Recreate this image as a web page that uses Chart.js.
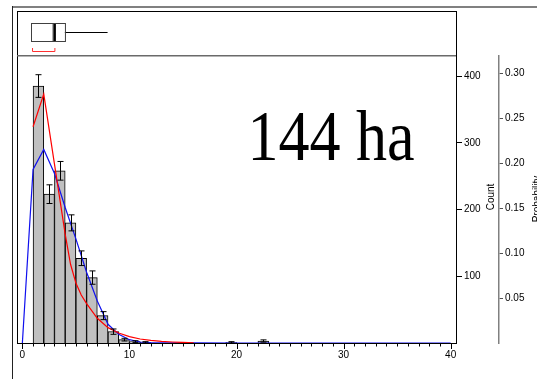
<!DOCTYPE html>
<html><head><meta charset="utf-8">
<script src="https://cdn.jsdelivr.net/npm/chart.js@4"></script>
<style>html,body{margin:0;padding:0;background:#fff;overflow:hidden}canvas{display:block}</style>
</head><body>
<canvas id="c" width="537" height="379"></canvas>
<script>
// Histogram bins (lower edge, width 1) and counts
const binStarts = [1, 2, 3, 4, 5, 6, 7, 8, 9, 10, 11, 19, 22];
const binCounts = [385, 223, 258, 180, 127, 98, 41, 17, 5, 2, 1, 1, 3];
const binErrors = [17, 14, 14, 12, 11, 10, 6, 4, 2, 1.4, 1, 1, 1.7];
// Fitted curve 1 (blue)
const blueX = [0, 1, 2, 3, 4, 5, 6, 7, 8, 9, 10, 11, 12, 20, 30, 40];
const blueY = [0, 260, 290, 254, 203, 156, 106, 63, 28, 13, 5, 1.5, 0.5, 0, 0, 0];
// Fitted curve 2 (red)
const redX = [1, 2, 3, 4, 4.5, 5, 5.5, 6, 7, 8, 9, 10, 11, 12, 13, 14, 15, 16];
const redY = [324, 373, 268, 163, 118, 90, 72, 59, 37, 23, 15, 9.5, 6, 4, 2.5, 1.5, 0.8, 0.2];
// Outlier box plot: Q1, median, Q3, upper whisker; mean; shortest half
const boxQuartiles = [0.8, 3.04, 3.97, 7.96];
const boxMean = 2.88;
const shortestHalf = [0.95, 3.04];
// Axes
const xTickLabels = [0, 10, 20, 30, 40];
const countTicks = [100, 200, 300, 400];
const probTicks = [0.05, 0.10, 0.15, 0.20, 0.25, 0.30];
const countAxisMax = 430;
const probAxisMax = 0.3192;
const titleText = '144 ha';

const SANS = '"Liberation Sans", Arial, sans-serif';

const decor = {
  id: 'decor',
  afterDatasetsDraw(chart) {
    const ctx = chart.ctx;
    const ys = chart.scales.y;
    const meta = chart.getDatasetMeta(2);
    ctx.save();
    ctx.strokeStyle = '#000';
    ctx.lineWidth = 1;
    meta.data.forEach((el, i) => {
      const e = binErrors[i];
      if (!e) return;
      const x = Math.round(el.x) + 0.5;
      const y1 = ys.getPixelForValue(binCounts[i] + e);
      const y2 = ys.getPixelForValue(Math.max(0, binCounts[i] - e));
      ctx.beginPath();
      ctx.moveTo(x, y1); ctx.lineTo(x, y2);
      ctx.moveTo(x - 3, y1); ctx.lineTo(x + 3, y1);
      ctx.moveTo(x - 3, y2); ctx.lineTo(x + 3, y2);
      ctx.stroke();
    });
    ctx.restore();
  },
  afterDraw(chart) {
    const ctx = chart.ctx;
    const xs = chart.scales.x;
    const a = chart.chartArea;
    ctx.save();
    ctx.strokeStyle = '#000';
    ctx.lineWidth = 1;
    for (let v = 0; v <= 40; v++) {
      const px = Math.round(xs.getPixelForValue(v)) + 0.5;
      ctx.beginPath();
      ctx.moveTo(px, a.bottom);
      ctx.lineTo(px, a.bottom + (v % 10 === 0 ? 6 : 3.5));
      ctx.stroke();
    }
    ctx.fillStyle = '#808080';
    ctx.fillRect(12, 6, 525, 2);
    ctx.fillStyle = '#222';
    ctx.fillRect(12, 6, 1, 373);
    ctx.fillStyle = '#000';
    ctx.fillRect(a.left, 11, a.right - a.left + 1, 1);
    ctx.fillRect(a.left, 11, 1, a.bottom - 11);
    ctx.fillRect(a.right, 11, 1, a.bottom - 11);
    ctx.fillStyle = '#6a6a6a';
    ctx.fillRect(a.left, 55, a.right - a.left, 1.5);
    const bx = v => xs.getPixelForValue(v);
    const cy = 32.5;
    ctx.strokeStyle = '#000';
    ctx.lineWidth = 1;
    ctx.beginPath();
    ctx.moveTo(bx(boxQuartiles[2]), cy); ctx.lineTo(bx(boxQuartiles[3]), cy);
    ctx.stroke();
    ctx.strokeStyle = '#404040';
    ctx.strokeRect(Math.round(bx(boxQuartiles[0])) + 0.5, 23.5, bx(boxQuartiles[2]) - bx(boxQuartiles[0]), 18);
    ctx.strokeStyle = '#000';
    ctx.lineWidth = 2;
    ctx.beginPath();
    ctx.moveTo(bx(boxQuartiles[1]), 24); ctx.lineTo(bx(boxQuartiles[1]), 41);
    ctx.stroke();
    ctx.lineWidth = 1;
    ctx.beginPath();
    ctx.moveTo(bx(boxMean), 24); ctx.lineTo(bx(boxMean), 41);
    ctx.stroke();
    ctx.strokeStyle = '#ff3030';
    ctx.beginPath();
    ctx.moveTo(bx(shortestHalf[0]), 48); ctx.lineTo(bx(shortestHalf[0]), 51.5);
    ctx.lineTo(bx(shortestHalf[1]), 51.5); ctx.lineTo(bx(shortestHalf[1]), 48);
    ctx.stroke();
    ctx.fillStyle = '#000';
    ctx.font = '10px ' + SANS;
    ctx.textAlign = 'center';
    ctx.textBaseline = 'alphabetic';
    ctx.save();
    ctx.translate(494, 197);
    ctx.rotate(-Math.PI / 2);
    ctx.fillText('Count', 0, 0);
    ctx.restore();
    ctx.save();
    ctx.translate(539.5, 199);
    ctx.rotate(-Math.PI / 2);
    ctx.fillText('Probability', 0, 0);
    ctx.restore();
    ctx.save();
    ctx.translate(331, 160);
    ctx.scale(0.97, 1.12);
    ctx.font = '64px "Liberation Serif", "Times New Roman", serif';
    ctx.textAlign = 'center';
    ctx.textBaseline = 'alphabetic';
    ctx.fillText(titleText, 0, 0);
    ctx.restore();
    ctx.restore();
  }
};

const bars = binStarts.map((s, i) => ({ x: s + 0.5, y: binCounts[i] }));
const blue = blueX.map((x, i) => ({ x, y: blueY[i] }));
const red = redX.map((x, i) => ({ x, y: redY[i] }));

new Chart(document.getElementById('c'), {
  type: 'bar',
  data: {
    datasets: [
      { type: 'line', data: red, borderColor: '#ff0000', borderWidth: 1.2, pointRadius: 0, tension: 0, yAxisID: 'y', order: 1 },
      { type: 'line', data: blue, borderColor: '#1010ee', borderWidth: 1.2, pointRadius: 0, tension: 0, yAxisID: 'y', order: 2 },
      { type: 'bar', data: bars, backgroundColor: '#c0c0c0', borderColor: '#000', borderWidth: 1,
        barPercentage: 1, categoryPercentage: 1, grouped: false, yAxisID: 'y', order: 3 }
    ]
  },
  options: {
    responsive: false,
    animation: false,
    devicePixelRatio: 1,
    layout: { padding: { left: 17, top: 56, right: 0, bottom: 0 } },
    plugins: { legend: { display: false }, tooltip: { enabled: false } },
    scales: {
      x: {
        type: 'linear', position: 'bottom', min: -0.5, max: 40.5, offset: false,
        afterBuildTicks(s) { s.ticks = xTickLabels.map(v => ({ value: v })); },
        ticks: { autoSkip: false, maxRotation: 0, padding: 6, color: '#000', font: { family: SANS, size: 10 } },
        grid: { display: true, drawOnChartArea: false, drawTicks: false },
        border: { display: true, color: '#000', width: 1 },
        afterFit(s) { s.height = 36; }
      },
      y: {
        type: 'linear', position: 'right', min: 0, max: countAxisMax,
        afterBuildTicks(s) { s.ticks = countTicks.map(v => ({ value: v })); },
        ticks: { padding: 2, color: '#000', font: { family: SANS, size: 10 } },
        grid: { display: true, drawOnChartArea: false, drawTicks: true, tickLength: 6, color: '#000' },
        border: { display: true, color: '#000', width: 1 },
        afterFit(s) { s.width = 43; }
      },
      y2: {
        type: 'linear', position: 'right', min: 0, max: probAxisMax,
        afterBuildTicks(s) { s.ticks = probTicks.map(v => ({ value: v })); },
        ticks: { padding: 2, color: '#000', font: { family: SANS, size: 10 }, callback: v => v.toFixed(2) },
        grid: { display: true, drawOnChartArea: false, drawTicks: true, tickLength: 4, color: '#505050' },
        border: { display: true, color: '#808080', width: 1.5 },
        afterFit(s) { s.width = 38; }
      }
    }
  },
  plugins: [decor]
});
</script>
</body></html>
